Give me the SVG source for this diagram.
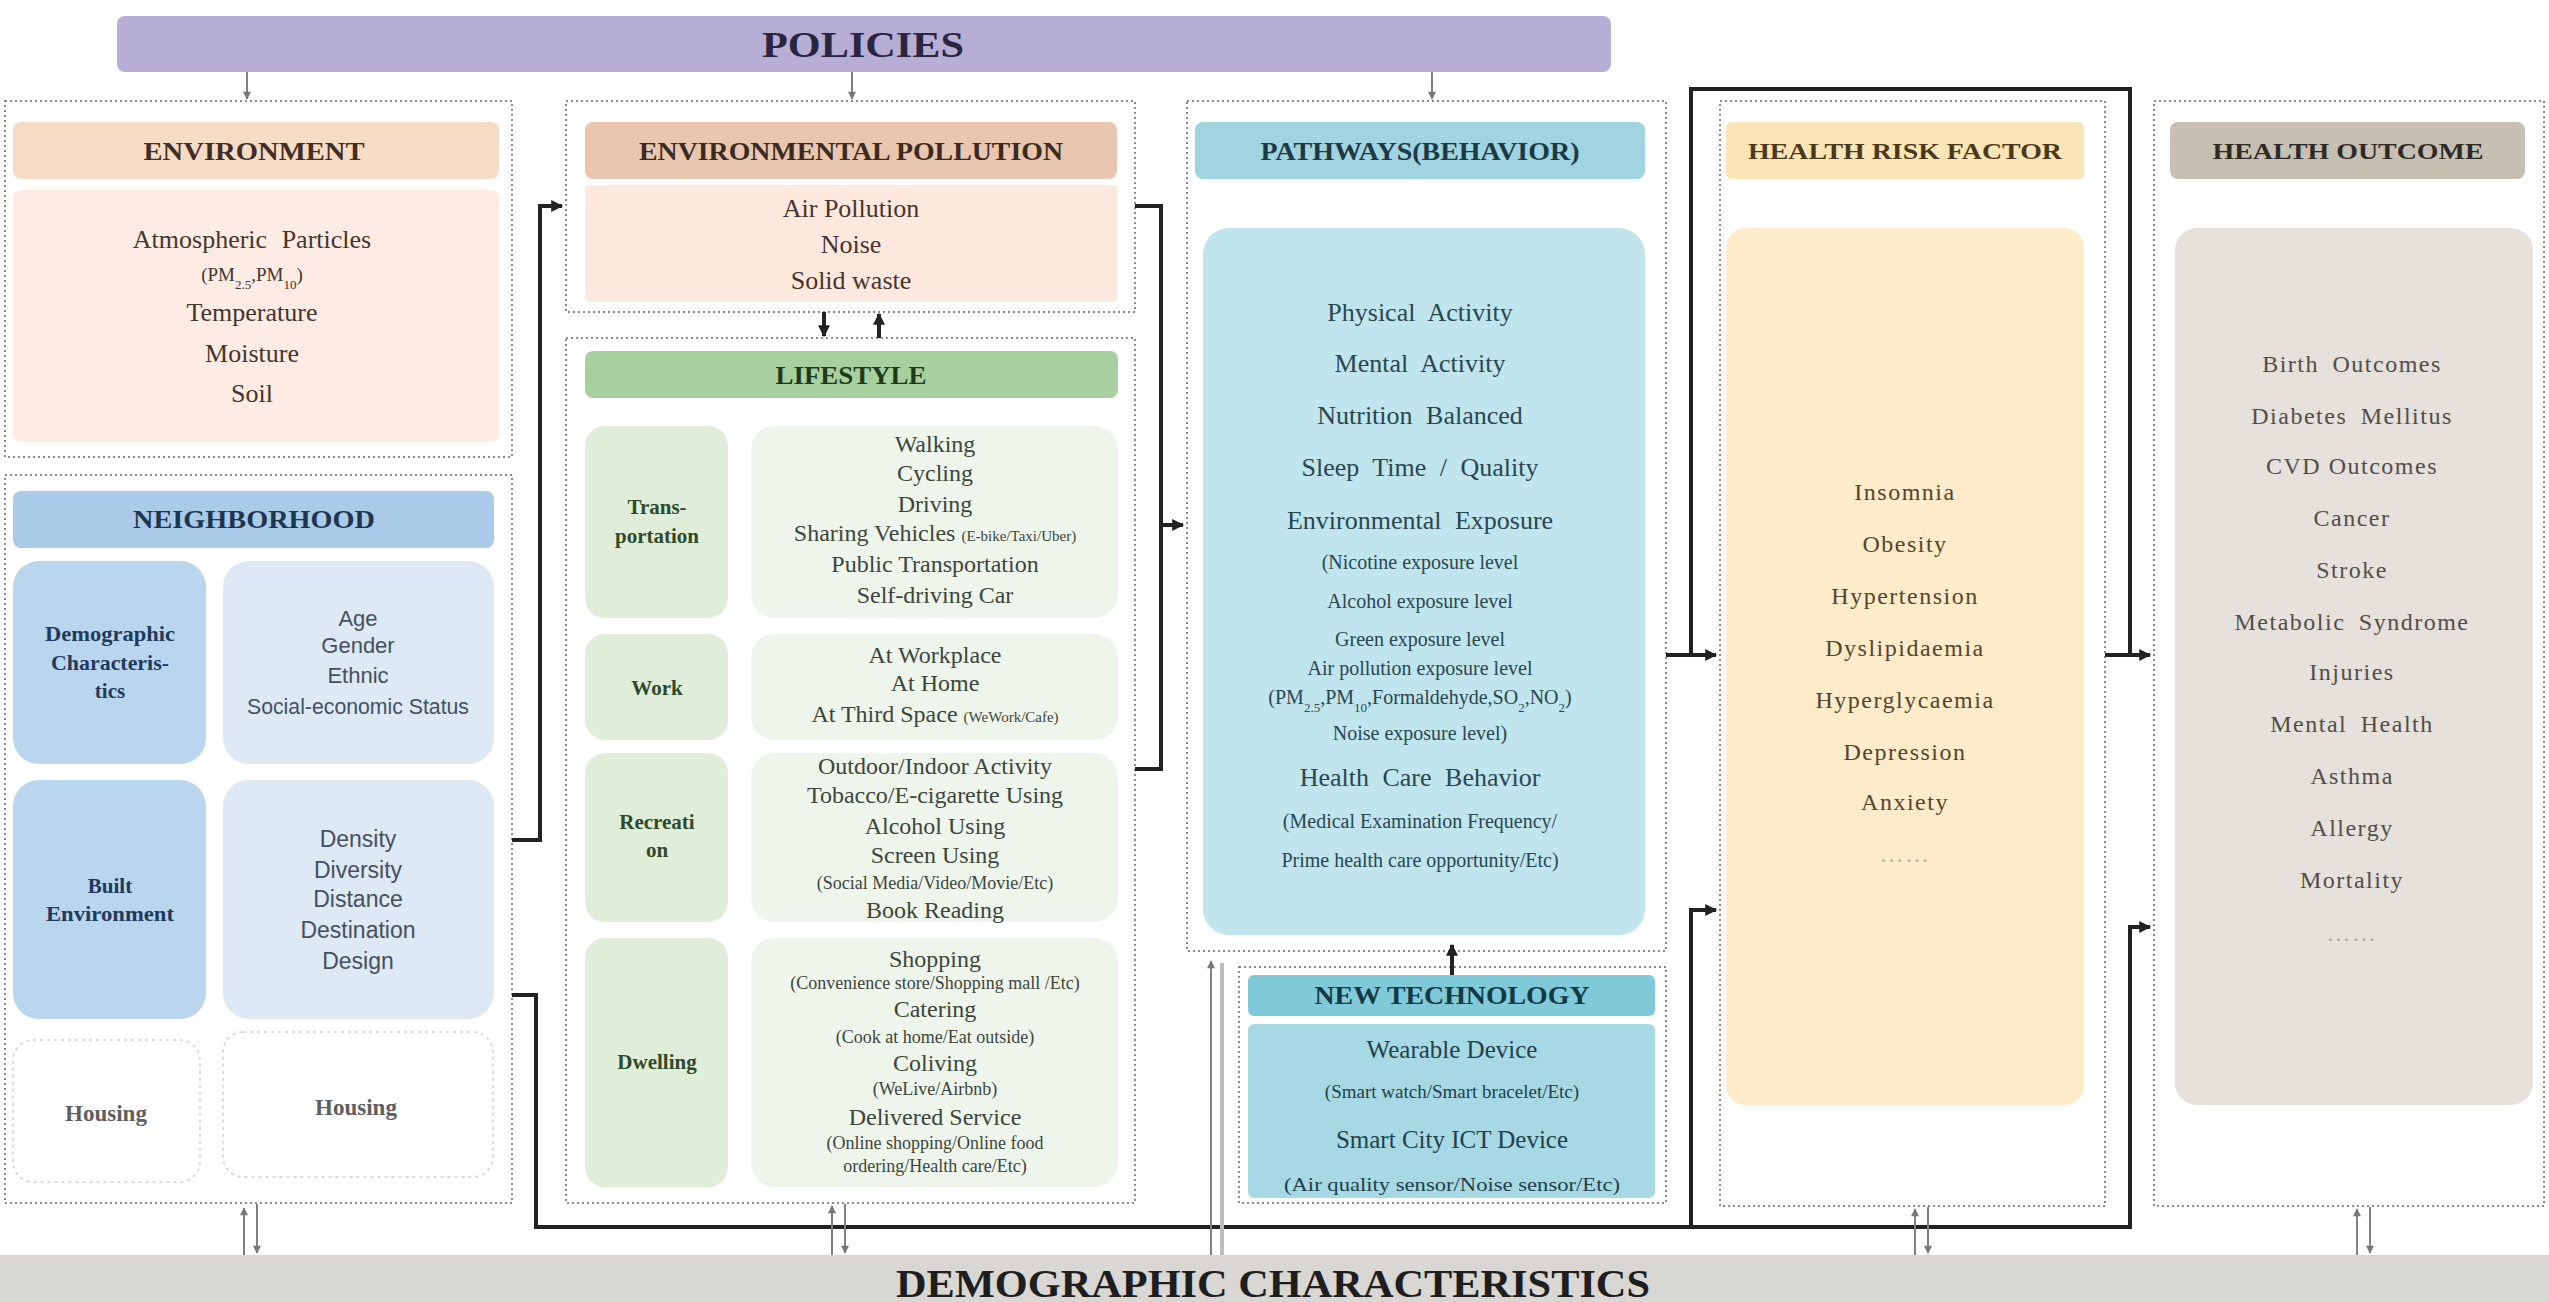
<svg xmlns="http://www.w3.org/2000/svg" width="2549" height="1302" viewBox="0 0 2549 1302">
<defs>
<style>
.cont{fill:#fff;stroke:#8a8a8a;stroke-width:2;stroke-dasharray:2 3}
.hd{font-family:"Liberation Serif",serif;font-weight:bold;font-size:25px;text-anchor:middle}
.tx{font-family:"Liberation Serif",serif;text-anchor:middle}
.ns{font-family:"Liberation Sans",sans-serif;text-anchor:middle}
.b{font-size:24px}
.s{font-size:18px}
.cat{font-family:"Liberation Serif",serif;font-weight:bold;font-size:21px;text-anchor:middle}
.blk{fill:none;stroke:#222;stroke-width:4}
.thin{fill:none;stroke:#808080;stroke-width:2}
</style>
<marker id="ab" viewBox="0 0 10 10" refX="9" refY="5" markerWidth="14" markerHeight="12" markerUnits="userSpaceOnUse" orient="auto"><path d="M0 0L10 5L0 10z" fill="#222"/></marker>
<marker id="ag" viewBox="0 0 10 10" refX="9" refY="5" markerWidth="9" markerHeight="8" markerUnits="userSpaceOnUse" orient="auto"><path d="M0 0L10 5L0 10z" fill="#777"/></marker>
</defs>
<rect width="2549" height="1302" fill="#fff"/>

<g id="policies">
<rect x="117" y="16" width="1494" height="56" rx="8" fill="#b7aed6"/>
<text x="863" y="57" class="hd" style="font-size:36px" fill="#2a2540" textLength="202" lengthAdjust="spacingAndGlyphs">POLICIES</text>
</g>

<g id="environment">
<rect x="5" y="101" width="507" height="356" class="cont"/>
<rect x="13" y="122" width="486" height="57" rx="8" fill="#f7dcc5"/>
<text x="254" y="160" class="hd" fill="#3f2e25" textLength="221" lengthAdjust="spacingAndGlyphs">ENVIRONMENT</text>
<rect x="13" y="190" width="486" height="252" rx="8" fill="#fdece3"/>
<g class="tx" fill="#45352c">
<text x="252" y="248" style="font-size:26px" word-spacing="8">Atmospheric Particles</text>
<text x="252" y="281" style="font-size:19px">(PM<tspan baseline-shift="sub" font-size="13">2.5</tspan>,PM<tspan baseline-shift="sub" font-size="13">10</tspan>)</text>
<text x="252" y="321" style="font-size:26px">Temperature</text>
<text x="252" y="362" style="font-size:26px">Moisture</text>
<text x="252" y="402" style="font-size:26px">Soil</text>
</g>
</g>

<g id="neighborhood">
<rect x="5" y="475" width="507" height="728" class="cont"/>
<rect x="13" y="491" width="481" height="57" rx="8" fill="#a9cbe9"/>
<text x="254" y="528" class="hd" fill="#1e3550" textLength="242" lengthAdjust="spacingAndGlyphs">NEIGHBORHOOD</text>
<rect x="13" y="561" width="193" height="203" rx="26" fill="#bad5ee"/>
<g class="cat" fill="#1f3a5a">
<text x="110" y="641" textLength="130" lengthAdjust="spacingAndGlyphs">Demographic</text>
<text x="110" y="670" textLength="118" lengthAdjust="spacingAndGlyphs">Characteris-</text>
<text x="110" y="698">tics</text>
</g>
<rect x="223" y="561" width="271" height="203" rx="26" fill="#dde9f5"/>
<g class="ns" fill="#44505f" style="font-size:22px">
<text x="358" y="626">Age</text>
<text x="358" y="653">Gender</text>
<text x="358" y="683">Ethnic</text>
<text x="358" y="714" textLength="222" lengthAdjust="spacingAndGlyphs">Social-economic Status</text>
</g>
<rect x="13" y="780" width="193" height="239" rx="26" fill="#bad5ee"/>
<g class="cat" fill="#1f3a5a">
<text x="110" y="893">Built</text>
<text x="110" y="921" textLength="128" lengthAdjust="spacingAndGlyphs">Environment</text>
</g>
<rect x="223" y="780" width="271" height="239" rx="26" fill="#dde9f5"/>
<g class="ns" fill="#44505f" style="font-size:23px">
<text x="358" y="847">Density</text>
<text x="358" y="878">Diversity</text>
<text x="358" y="907">Distance</text>
<text x="358" y="938">Destination</text>
<text x="358" y="969">Design</text>
</g>
<rect x="13" y="1040" width="187" height="142" rx="20" fill="#fff" stroke="#cfcfcf" stroke-width="1.5" stroke-dasharray="3 4"/>
<text x="106" y="1121" class="tx" style="font-size:23px;font-weight:bold" fill="#5e5e5e">Housing</text>
<rect x="223" y="1032" width="270" height="145" rx="20" fill="#fff" stroke="#cfcfcf" stroke-width="1.5" stroke-dasharray="3 4"/>
<text x="356" y="1115" class="tx" style="font-size:23px;font-weight:bold" fill="#5e5e5e">Housing</text>
</g>

<g id="pollution">
<rect x="566" y="101" width="569" height="211" class="cont"/>
<rect x="585" y="122" width="532" height="57" rx="8" fill="#e9c6b0"/>
<text x="851" y="160" class="hd" fill="#3a2a20" textLength="424" lengthAdjust="spacingAndGlyphs">ENVIRONMENTAL POLLUTION</text>
<rect x="585" y="185" width="532" height="117" rx="4" fill="#fde8dd"/>
<g class="tx" fill="#45352c" style="font-size:26px">
<text x="851" y="217">Air Pollution</text>
<text x="851" y="253">Noise</text>
<text x="851" y="289">Solid waste</text>
</g>
</g>

<g id="lifestyle">
<rect x="566" y="338" width="569" height="865" class="cont"/>
<rect x="585" y="351" width="533" height="47" rx="8" fill="#a8d09e"/>
<text x="851" y="384" class="hd" fill="#1f3a1a" textLength="151" lengthAdjust="spacingAndGlyphs">LIFESTYLE</text>
<g fill="#e0eed9">
<rect x="585" y="426" width="143" height="192" rx="20"/>
<rect x="585" y="634" width="143" height="106" rx="20"/>
<rect x="585" y="753" width="143" height="169" rx="20"/>
<rect x="585" y="938" width="143" height="249" rx="20"/>
</g>
<g fill="#eef5eb">
<rect x="751" y="426" width="367" height="192" rx="24"/>
<rect x="751" y="634" width="367" height="106" rx="24"/>
<rect x="751" y="753" width="367" height="169" rx="24"/>
<rect x="751" y="938" width="367" height="249" rx="24"/>
</g>
<g class="cat" fill="#2f4a2a">
<text x="657" y="514">Trans-</text>
<text x="657" y="543">portation</text>
<text x="657" y="695">Work</text>
<text x="657" y="829">Recreati</text>
<text x="657" y="857">on</text>
<text x="657" y="1069">Dwelling</text>
</g>
<g class="tx b" fill="#3c463a">
<text x="935" y="452">Walking</text>
<text x="935" y="481">Cycling</text>
<text x="935" y="512">Driving</text>
<text x="935" y="541">Sharing Vehicles <tspan font-size="15">(E-bike/Taxi/Uber)</tspan></text>
<text x="935" y="572">Public Transportation</text>
<text x="935" y="603">Self-driving Car</text>
<text x="935" y="663">At Workplace</text>
<text x="935" y="691">At Home</text>
<text x="935" y="722">At Third Space <tspan font-size="15">(WeWork/Cafe)</tspan></text>
<text x="935" y="774">Outdoor/Indoor Activity</text>
<text x="935" y="803">Tobacco/E-cigarette Using</text>
<text x="935" y="834">Alcohol Using</text>
<text x="935" y="863">Screen Using</text>
<text x="935" y="889" class="s">(Social Media/Video/Movie/Etc)</text>
<text x="935" y="918">Book Reading</text>
<text x="935" y="967">Shopping</text>
<text x="935" y="989" class="s">(Convenience store/Shopping mall /Etc)</text>
<text x="935" y="1017">Catering</text>
<text x="935" y="1043" class="s">(Cook at home/Eat outside)</text>
<text x="935" y="1071">Coliving</text>
<text x="935" y="1095" class="s">(WeLive/Airbnb)</text>
<text x="935" y="1125">Delivered Service</text>
<text x="935" y="1149" class="s">(Online shopping/Online food</text>
<text x="935" y="1172" class="s">ordering/Health care/Etc)</text>
</g>
</g>

<g id="pathways">
<rect x="1187" y="101" width="479" height="850" class="cont"/>
<rect x="1195" y="122" width="450" height="57" rx="8" fill="#9fd4e0"/>
<text x="1420" y="160" class="hd" fill="#1c3a44" textLength="319" lengthAdjust="spacingAndGlyphs">PATHWAYS(BEHAVIOR)</text>
<rect x="1203" y="228" width="442" height="707" rx="26" fill="#c0e5ed"/>
<g class="tx" fill="#2a464f">
<text x="1420" y="321" style="font-size:26px" word-spacing="7">Physical Activity</text>
<text x="1420" y="372" style="font-size:26px" word-spacing="7">Mental Activity</text>
<text x="1420" y="424" style="font-size:26px" word-spacing="7">Nutrition Balanced</text>
<text x="1420" y="476" style="font-size:26px" word-spacing="7">Sleep Time / Quality</text>
<text x="1420" y="529" style="font-size:26px" word-spacing="7">Environmental Exposure</text>
<text x="1420" y="569" style="font-size:20px">(Nicotine exposure level</text>
<text x="1420" y="608" style="font-size:20px">Alcohol exposure level</text>
<text x="1420" y="646" style="font-size:20px">Green exposure level</text>
<text x="1420" y="675" style="font-size:20px">Air pollution exposure level</text>
<text x="1420" y="704" style="font-size:20px">(PM<tspan baseline-shift="sub" font-size="13">2.5</tspan>,PM<tspan baseline-shift="sub" font-size="13">10</tspan>,Formaldehyde,SO<tspan baseline-shift="sub" font-size="13">2</tspan>,NO<tspan baseline-shift="sub" font-size="13">2</tspan>)</text>
<text x="1420" y="740" style="font-size:20px">Noise exposure level)</text>
<text x="1420" y="786" style="font-size:26px" word-spacing="7">Health Care Behavior</text>
<text x="1420" y="828" style="font-size:20px">(Medical Examination Frequency/</text>
<text x="1420" y="867" style="font-size:20px">Prime health care opportunity/Etc)</text>
</g>
</g>

<g id="new-technology">
<rect x="1239" y="967" width="427" height="236" class="cont"/>
<rect x="1248" y="975" width="407" height="41" rx="6" fill="#80c9d8"/>
<text x="1452" y="1004" class="hd" fill="#123a44" textLength="275" lengthAdjust="spacingAndGlyphs">NEW TECHNOLOGY</text>
<rect x="1248" y="1024" width="407" height="174" rx="6" fill="#a6d9e3"/>
<g class="tx" fill="#21404a">
<text x="1452" y="1058" style="font-size:25px">Wearable Device</text>
<text x="1452" y="1098" style="font-size:19px">(Smart watch/Smart bracelet/Etc)</text>
<text x="1452" y="1148" style="font-size:25px">Smart City ICT Device</text>
<text x="1452" y="1191" style="font-size:19px" textLength="336" lengthAdjust="spacingAndGlyphs">(Air quality sensor/Noise sensor/Etc)</text>
</g>
</g>

<g id="health-risk-factor">
<rect x="1720" y="101" width="385" height="1105" class="cont"/>
<rect x="1726" y="122" width="358" height="57" rx="6" fill="#fbe5b6"/>
<text x="1905" y="159" class="hd" style="font-size:23px" fill="#4a3a1c" textLength="314" lengthAdjust="spacingAndGlyphs">HEALTH RISK FACTOR</text>
<rect x="1726" y="228" width="358" height="877" rx="20" fill="#fdebc9"/>
<g class="tx" fill="#55452d" style="font-size:24px" letter-spacing="1.5">
<text x="1905" y="500">Insomnia</text>
<text x="1905" y="552">Obesity</text>
<text x="1905" y="604">Hypertension</text>
<text x="1905" y="656">Dyslipidaemia</text>
<text x="1905" y="708">Hyperglycaemia</text>
<text x="1905" y="760">Depression</text>
<text x="1905" y="810">Anxiety</text>
<text x="1905" y="862" fill="#b8a88a">……</text>
</g>
</g>

<g id="health-outcome">
<rect x="2154" y="101" width="390" height="1105" class="cont"/>
<rect x="2170" y="122" width="355" height="57" rx="8" fill="#c8bfb3"/>
<text x="2348" y="159" class="hd" style="font-size:23px" fill="#2e2a26" textLength="271" lengthAdjust="spacingAndGlyphs">HEALTH OUTCOME</text>
<rect x="2175" y="228" width="358" height="877" rx="22" fill="#e6e1da"/>
<g class="tx" fill="#524d47" style="font-size:24px" letter-spacing="1.5">
<text x="2352" y="372" word-spacing="6">Birth Outcomes</text>
<text x="2352" y="424" word-spacing="6">Diabetes Mellitus</text>
<text x="2352" y="474">CVD Outcomes</text>
<text x="2352" y="526">Cancer</text>
<text x="2352" y="578">Stroke</text>
<text x="2352" y="630" word-spacing="6">Metabolic Syndrome</text>
<text x="2352" y="680">Injuries</text>
<text x="2352" y="732" word-spacing="6">Mental Health</text>
<text x="2352" y="784">Asthma</text>
<text x="2352" y="836">Allergy</text>
<text x="2352" y="888">Mortality</text>
<text x="2352" y="941" fill="#aaa49c">……</text>
</g>
</g>

<g id="demographic-characteristics">
<rect x="0" y="1255" width="2549" height="47" fill="#d9d7d3"/>
<text x="1273" y="1297" class="hd" style="font-size:40px" fill="#1e1e1e" textLength="754" lengthAdjust="spacingAndGlyphs">DEMOGRAPHIC CHARACTERISTICS</text>
</g>

<g id="connectors">
<path class="thin" d="M247 72V99" marker-end="url(#ag)" stroke-width="1.5"/>
<path class="thin" d="M852 72V99" marker-end="url(#ag)" stroke-width="1.5"/>
<path class="thin" d="M1432 72V99" marker-end="url(#ag)" stroke-width="1.5"/>
<path class="blk" d="M512 840H540V206H562" marker-end="url(#ab)"/>
<path class="blk" d="M512 995H536V1227H2130V927H2150" marker-end="url(#ab)"/>
<path class="blk" d="M1691 1227V910H1716" marker-end="url(#ab)"/>
<path class="blk" d="M1135 206H1161V769H1135"/>
<path class="blk" d="M1161 525H1183" marker-end="url(#ab)"/>
<path class="blk" d="M1666 655H1716" marker-end="url(#ab)"/>
<path class="blk" d="M1691 655V89H2130V655H2150" marker-end="url(#ab)"/>
<path class="blk" d="M2105 655H2130"/>
<path class="blk" d="M1452 975V945" marker-end="url(#ab)" stroke-width="3"/>
<path class="blk" d="M824 312V336" marker-end="url(#ab)" stroke-width="3"/>
<path class="blk" d="M879 338V314" marker-end="url(#ab)" stroke-width="3"/>
<path class="thin" d="M244 1255V1208" marker-end="url(#ag)"/>
<path class="thin" d="M257 1204V1253" marker-end="url(#ag)"/>
<path class="thin" d="M832 1255V1206" marker-end="url(#ag)"/>
<path class="thin" d="M845 1204V1253" marker-end="url(#ag)"/>
<path class="thin" d="M1915 1255V1209" marker-end="url(#ag)"/>
<path class="thin" d="M1928 1207V1253" marker-end="url(#ag)"/>
<path class="thin" d="M2357 1255V1209" marker-end="url(#ag)"/>
<path class="thin" d="M2370 1207V1253" marker-end="url(#ag)"/>
<path class="thin" d="M1211 1255V961" marker-end="url(#ag)"/>
<path d="M1222 1255V963" fill="none" stroke="#bdbdbd" stroke-width="4"/>
</g>
</svg>
